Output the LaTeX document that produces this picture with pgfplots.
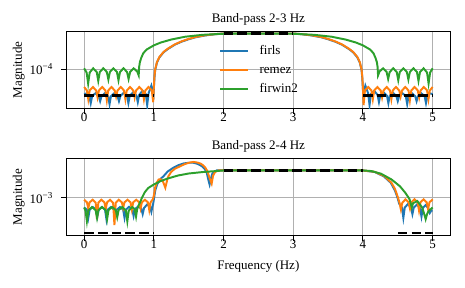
\documentclass[border=0pt]{standalone}
\usepackage{fontspec}
\setmainfont{Liberation Serif}
\usepackage{pgfplots}
\pgfplotsset{compat=1.18}
\definecolor{tabblue}{HTML}{1F77B4}
\definecolor{taborange}{HTML}{FF7F0E}
\definecolor{tabgreen}{HTML}{2CA02C}
\definecolor{gridgray}{HTML}{B0B0B0}
\pgfplotsset{
  every axis/.append style={
    scale only axis, width=294.9pt,
    xmin=-0.25, xmax=5.25, xtick={0,1,2,3,4,5},
    yminorticks=false, xtick pos=left, ytick pos=left,
    tick align=outside, major tick length=4.5pt,
    tick style={black, line width=0.8pt},
    axis line style={line width=0.8pt},
    grid=major, major grid style={line width=0.8pt, color=gridgray},
    /pgf/number format/assume math mode=true,
    xticklabel style={yshift=4.5pt},
    yticklabel style={xshift=-2.5pt},
    title style={at={(axis description cs:0.5,1)}, anchor=base, yshift=0.9pt},
    ylabel style={at={(axis description cs:-0.1168,0.5)}, anchor=base},
    ylabel={Magnitude},
  },
  every axis plot/.append style={line width=1.5pt},
}
\tikzset{blk/.style={black, line width=2pt, dash pattern=on 7.4pt off 3.2pt}}
\begin{document}
\begin{tikzpicture}
\path[use as bounding box] (0,0) rectangle (357.7pt,-221.5pt);
\begin{axis}[ymode=log,
  at={(51.3pt,-24.4pt)}, anchor=north west, height=58.7pt,
  ymin=4.73e-5, ymax=2.07e-4,
  ytick={1e-4}, yticklabels={10\textsuperscript{−4}},
  title={Band-pass 2-3 Hz},
  legend style={draw=none, fill=none, at={(axis description cs:0.3973,0.5)}, anchor=west,
    inner sep=0pt, row sep=5.6pt, cells={anchor=west},
    nodes={inner sep=0pt, text height=7pt, text depth=2pt}},
  legend image code/.code={\path (0pt,-1pt) (29.5pt,1pt); \draw[#1] (0pt,0pt) -- (21.3pt,0pt);},
]
\addplot[tabblue] coordinates {(0,6.2e-5) (0.048,6.3e-5) (0.075,5.95e-5) (0.095,5.2e-5) (0.115,5.95e-5) (0.163,6.3e-5) (0.21,5.95e-5) (0.23,5.4e-5) (0.25,5.95e-5) (0.298,6.3e-5) (0.345,5.95e-5) (0.365,5.1e-5) (0.385,5.95e-5) (0.433,6.3e-5) (0.48,5.95e-5) (0.5,5.4e-5) (0.52,5.95e-5) (0.568,6.35e-5) (0.615,6.0e-5) (0.635,5.2e-5) (0.655,6.0e-5) (0.703,6.4e-5) (0.75,6.05e-5) (0.77,5.3e-5) (0.79,6.1e-5) (0.838,6.6e-5) (0.885,6.2e-5) (0.905,5.0e-5) (0.925,6.3e-5) (0.965,7.3e-5) (0.985,6.5e-5) (0.993,5.6e-5) (1.0,6.8e-5) (1.01,8.6e-5) (1.02,9.9e-5) (1.045,1.14e-4) (1.08,1.26e-4) (1.14,1.39e-4) (1.2,1.48e-4) (1.3,1.61e-4) (1.4,1.71e-4) (1.5,1.79e-4) (1.6,1.86e-4) (1.75,1.93e-4) (1.9,1.98e-4) (2.0,2.0e-4) (2.5,2.0e-4) (3.0,2.0e-4) (3.1,1.98e-4) (3.25,1.93e-4) (3.4,1.86e-4) (3.5,1.79e-4) (3.6,1.71e-4) (3.7,1.61e-4) (3.8,1.48e-4) (3.86,1.39e-4) (3.92,1.26e-4) (3.955,1.14e-4) (3.98,9.9e-5) (3.99,8.6e-5) (4.0,6.8e-5) (4.007,5.6e-5) (4.015,6.5e-5) (4.035,7.3e-5) (4.075,6.3e-5) (4.095,5.0e-5) (4.115,6.2e-5) (4.162,6.6e-5) (4.21,6.1e-5) (4.23,5.3e-5) (4.25,6.05e-5) (4.297,6.4e-5) (4.345,6.0e-5) (4.365,5.2e-5) (4.385,6.0e-5) (4.432,6.35e-5) (4.48,5.95e-5) (4.5,5.4e-5) (4.52,5.95e-5) (4.567,6.3e-5) (4.615,5.95e-5) (4.635,5.1e-5) (4.655,5.95e-5) (4.702,6.3e-5) (4.75,5.95e-5) (4.77,5.4e-5) (4.79,5.95e-5) (4.837,6.3e-5) (4.885,5.95e-5) (4.905,5.2e-5) (4.925,5.95e-5) (4.952,6.3e-5) (5.0,6.2e-5)};
\addlegendentry{firls}
\addplot[taborange] coordinates {(0,7.1e-5) (0.04,6.65e-5) (0.06,5.6e-5) (0.08,6.65e-5) (0.127,7.1e-5) (0.173,6.65e-5) (0.193,5.8e-5) (0.213,6.65e-5) (0.26,7.1e-5) (0.306,6.65e-5) (0.326,5.5e-5) (0.346,6.65e-5) (0.393,7.1e-5) (0.439,6.65e-5) (0.459,5.9e-5) (0.479,6.65e-5) (0.526,7.1e-5) (0.572,6.65e-5) (0.592,5.6e-5) (0.612,6.65e-5) (0.659,7.1e-5) (0.705,6.65e-5) (0.725,5.8e-5) (0.745,6.65e-5) (0.792,7.1e-5) (0.838,6.65e-5) (0.858,5.6e-5) (0.878,6.65e-5) (0.924,7.1e-5) (0.971,6.65e-5) (0.991,5.3e-5) (1.0,7.0e-5) (1.01,8.8e-5) (1.02,1.0e-4) (1.045,1.15e-4) (1.08,1.27e-4) (1.14,1.40e-4) (1.2,1.49e-4) (1.3,1.62e-4) (1.4,1.72e-4) (1.5,1.80e-4) (1.6,1.87e-4) (1.75,1.94e-4) (1.9,1.98e-4) (2.0,2.0e-4) (2.5,2.0e-4) (3.0,2.0e-4) (3.1,1.98e-4) (3.25,1.94e-4) (3.4,1.87e-4) (3.5,1.80e-4) (3.6,1.72e-4) (3.7,1.62e-4) (3.8,1.49e-4) (3.86,1.40e-4) (3.92,1.27e-4) (3.955,1.15e-4) (3.98,1.0e-4) (3.99,8.8e-5) (4.0,7.0e-5) (4.009,5.0e-5) (4.029,6.65e-5) (4.076,7.1e-5) (4.122,6.65e-5) (4.142,5.6e-5) (4.162,6.65e-5) (4.208,7.1e-5) (4.255,6.65e-5) (4.275,5.8e-5) (4.295,6.65e-5) (4.341,7.1e-5) (4.388,6.65e-5) (4.408,5.6e-5) (4.428,6.65e-5) (4.474,7.1e-5) (4.521,6.65e-5) (4.541,5.9e-5) (4.561,6.65e-5) (4.607,7.1e-5) (4.654,6.65e-5) (4.674,5.5e-5) (4.694,6.65e-5) (4.74,7.1e-5) (4.787,6.65e-5) (4.807,5.8e-5) (4.827,6.65e-5) (4.873,7.1e-5) (4.92,6.65e-5) (4.94,5.6e-5) (4.96,6.65e-5) (5.0,7.1e-5)};
\addlegendentry{remez}
\addplot[tabgreen] coordinates {(0,1.02e-4) (0.036,9.4e-5) (0.058,7.6e-5) (0.08,9.4e-5) (0.13,1.02e-4) (0.181,9.5e-5) (0.203,8.0e-5) (0.225,9.5e-5) (0.275,1.02e-4) (0.326,9.5e-5) (0.348,8.2e-5) (0.37,9.5e-5) (0.42,1.02e-4) (0.471,9.5e-5) (0.493,8.1e-5) (0.515,9.5e-5) (0.565,1.02e-4) (0.616,9.5e-5) (0.638,8.3e-5) (0.66,9.5e-5) (0.71,1.02e-4) (0.761,9.6e-5) (0.783,8.9e-5) (0.79,1.05e-4) (0.80,1.15e-4) (0.82,1.25e-4) (0.85,1.37e-4) (0.9,1.47e-4) (1.0,1.59e-4) (1.1,1.68e-4) (1.25,1.78e-4) (1.45,1.88e-4) (1.7,1.95e-4) (2.0,1.99e-4) (2.5,2.0e-4) (3.0,1.99e-4) (3.3,1.95e-4) (3.55,1.88e-4) (3.75,1.78e-4) (3.9,1.68e-4) (4.0,1.59e-4) (4.1,1.47e-4) (4.15,1.37e-4) (4.18,1.25e-4) (4.2,1.15e-4) (4.21,1.05e-4) (4.217,8.9e-5) (4.239,9.6e-5) (4.29,1.02e-4) (4.34,9.5e-5) (4.362,8.3e-5) (4.384,9.5e-5) (4.435,1.02e-4) (4.485,9.5e-5) (4.507,8.1e-5) (4.529,9.5e-5) (4.58,1.02e-4) (4.63,9.5e-5) (4.652,8.2e-5) (4.674,9.5e-5) (4.725,1.02e-4) (4.775,9.5e-5) (4.797,8.0e-5) (4.819,9.5e-5) (4.87,1.02e-4) (4.92,9.4e-5) (4.942,7.6e-5) (4.964,9.4e-5) (5.0,1.02e-4)};
\addlegendentry{firwin2}
\addplot[blk, forget plot] coordinates {(0,6e-5) (1,6e-5)};
\addplot[blk, forget plot] coordinates {(2,2e-4) (3,2e-4)};
\addplot[blk, forget plot] coordinates {(4,6e-5) (5,6e-5)};
\end{axis}
\begin{axis}[ymode=log,
  at={(51.3pt,-121.9pt)}, anchor=north west, height=59.2pt,
  ymin=3.84e-4, ymax=2.71e-3,
  ytick={1e-3}, yticklabels={10\textsuperscript{−3}},
  title={Band-pass 2-4 Hz},
  xlabel={Frequency (Hz)},
  xlabel style={at={(axis description cs:0.5,0)}, anchor=base, yshift=-26.2pt},
]
\addplot[tabblue] coordinates {(0,7.8e-4) (0.04,7.4e-4) (0.06,6.0e-4) (0.08,7.4e-4) (0.125,7.9e-4) (0.17,7.4e-4) (0.19,6.2e-4) (0.21,7.4e-4) (0.255,7.9e-4) (0.30,7.4e-4) (0.32,5.8e-4) (0.34,7.4e-4) (0.385,7.9e-4) (0.43,7.4e-4) (0.45,6.4e-4) (0.47,7.4e-4) (0.515,7.9e-4) (0.56,7.4e-4) (0.58,6.0e-4) (0.60,7.4e-4) (0.645,7.95e-4) (0.69,7.5e-4) (0.71,6.3e-4) (0.73,7.5e-4) (0.775,8.0e-4) (0.82,7.6e-4) (0.84,6.6e-4) (0.86,7.7e-4) (0.9025,8.4e-4) (0.945,8.0e-4) (0.965,7.0e-4) (0.98,8.0e-4) (0.99,8.5e-4) (1.0,9.5e-4) (1.02,1.2e-3) (1.05,1.42e-3) (1.1,1.62e-3) (1.14,1.73e-3) (1.2,1.95e-3) (1.28,2.14e-3) (1.35,2.28e-3) (1.43,2.39e-3) (1.5,2.43e-3) (1.57,2.43e-3) (1.63,2.36e-3) (1.69,2.23e-3) (1.73,2.08e-3) (1.76,1.885e-3) (1.78,1.6e-3) (1.80,1.40e-3) (1.82,1.65e-3) (1.84,1.85e-3) (1.9,2.0e-3) (2.0,2.0e-3) (4.0,2.0e-3) (4.17,1.92e-3) (4.3,1.72e-3) (4.4,1.46e-3) (4.46,1.2e-3) (4.5,9.8e-4) (4.52,8.6e-4) (4.56,7.8e-4) (4.58,6.0e-4) (4.60,7.8e-4) (4.645,8.5e-4) (4.69,7.8e-4) (4.71,6.6e-4) (4.73,7.8e-4) (4.775,8.4e-4) (4.82,7.7e-4) (4.84,6.2e-4) (4.86,7.7e-4) (4.90,8.3e-4) (4.94,7.6e-4) (4.96,6.8e-4) (4.98,7.2e-4) (5.0,7.2e-4)};
\addplot[taborange] coordinates {(0,9.5e-4) (0.041,8.9e-4) (0.06,7.6e-4) (0.079,8.9e-4) (0.1225,9.5e-4) (0.166,8.8e-4) (0.185,5.8e-4) (0.204,8.8e-4) (0.2475,9.5e-4) (0.291,8.9e-4) (0.31,7.5e-4) (0.329,8.9e-4) (0.3725,9.5e-4) (0.416,8.8e-4) (0.435,5.0e-4) (0.454,8.8e-4) (0.4975,9.5e-4) (0.541,8.9e-4) (0.56,7.7e-4) (0.579,8.9e-4) (0.6225,9.5e-4) (0.666,8.9e-4) (0.685,7.4e-4) (0.704,8.9e-4) (0.7475,9.5e-4) (0.791,8.9e-4) (0.81,7.6e-4) (0.829,8.9e-4) (0.8725,9.5e-4) (0.916,8.9e-4) (0.935,7.3e-4) (0.954,8.9e-4) (0.985,9.6e-4) (1.0,1.05e-3) (1.02,1.3e-3) (1.045,1.48e-3) (1.07,1.59e-3) (1.1,1.6e-3) (1.13,1.52e-3) (1.165,1.29e-3) (1.19,1.55e-3) (1.21,1.73e-3) (1.25,1.93e-3) (1.3,2.08e-3) (1.38,2.23e-3) (1.45,2.36e-3) (1.52,2.45e-3) (1.57,2.48e-3) (1.63,2.44e-3) (1.67,2.38e-3) (1.71,2.27e-3) (1.74,2.14e-3) (1.77,1.95e-3) (1.8,1.65e-3) (1.83,1.43e-3) (1.85,1.75e-3) (1.88,1.93e-3) (1.93,2.0e-3) (2.0,2.0e-3) (4.0,2.0e-3) (4.17,1.93e-3) (4.31,1.73e-3) (4.41,1.46e-3) (4.46,1.25e-3) (4.48,1.13e-3) (4.5,1.02e-3) (4.525,8.8e-4) (4.545,7.4e-4) (4.565,8.8e-4) (4.61,9.6e-4) (4.655,8.9e-4) (4.675,7.6e-4) (4.695,8.9e-4) (4.74,9.6e-4) (4.785,8.9e-4) (4.805,7.2e-4) (4.825,8.9e-4) (4.87,9.6e-4) (4.915,8.9e-4) (4.935,7.5e-4) (4.955,8.9e-4) (5.0,9.6e-4)};
\addplot[tabgreen] coordinates {(0,7.8e-4) (0.02,7.2e-4) (0.04,5.5e-4) (0.06,7.2e-4) (0.112,7.9e-4) (0.165,7.3e-4) (0.185,6.0e-4) (0.205,7.3e-4) (0.257,7.9e-4) (0.31,7.3e-4) (0.33,5.8e-4) (0.35,7.3e-4) (0.402,7.9e-4) (0.455,7.3e-4) (0.475,6.1e-4) (0.495,7.3e-4) (0.547,7.9e-4) (0.6,7.2e-4) (0.62,5.5e-4) (0.64,7.2e-4) (0.69,7.9e-4) (0.725,7.5e-4) (0.745,6.2e-4) (0.76,7.4e-4) (0.78,8.2e-4) (0.80,8.8e-4) (0.83,1.0e-3) (0.87,1.15e-3) (0.92,1.28e-3) (1.0,1.40e-3) (1.1,1.53e-3) (1.2,1.63e-3) (1.35,1.76e-3) (1.5,1.85e-3) (1.7,1.92e-3) (1.9,1.97e-3) (2.0,2.0e-3) (4.0,2.0e-3) (4.12,1.97e-3) (4.26,1.84e-3) (4.41,1.59e-3) (4.53,1.34e-3) (4.61,1.13e-3) (4.67,9.6e-4) (4.70,7.8e-4) (4.72,8.7e-4) (4.78,9.2e-4) (4.85,7.8e-4) (4.885,6.4e-4) (4.90,5.8e-4) (4.92,6.6e-4) (4.94,7.1e-4) (5.0,7.8e-4)};
\addplot[blk, forget plot] coordinates {(0,4.1e-4) (1,4.1e-4)};
\addplot[blk, forget plot] coordinates {(2,2e-3) (4,2e-3)};
\addplot[blk, forget plot] coordinates {(4.5,4.1e-4) (5,4.1e-4)};
\end{axis}
\end{tikzpicture}
\end{document}
